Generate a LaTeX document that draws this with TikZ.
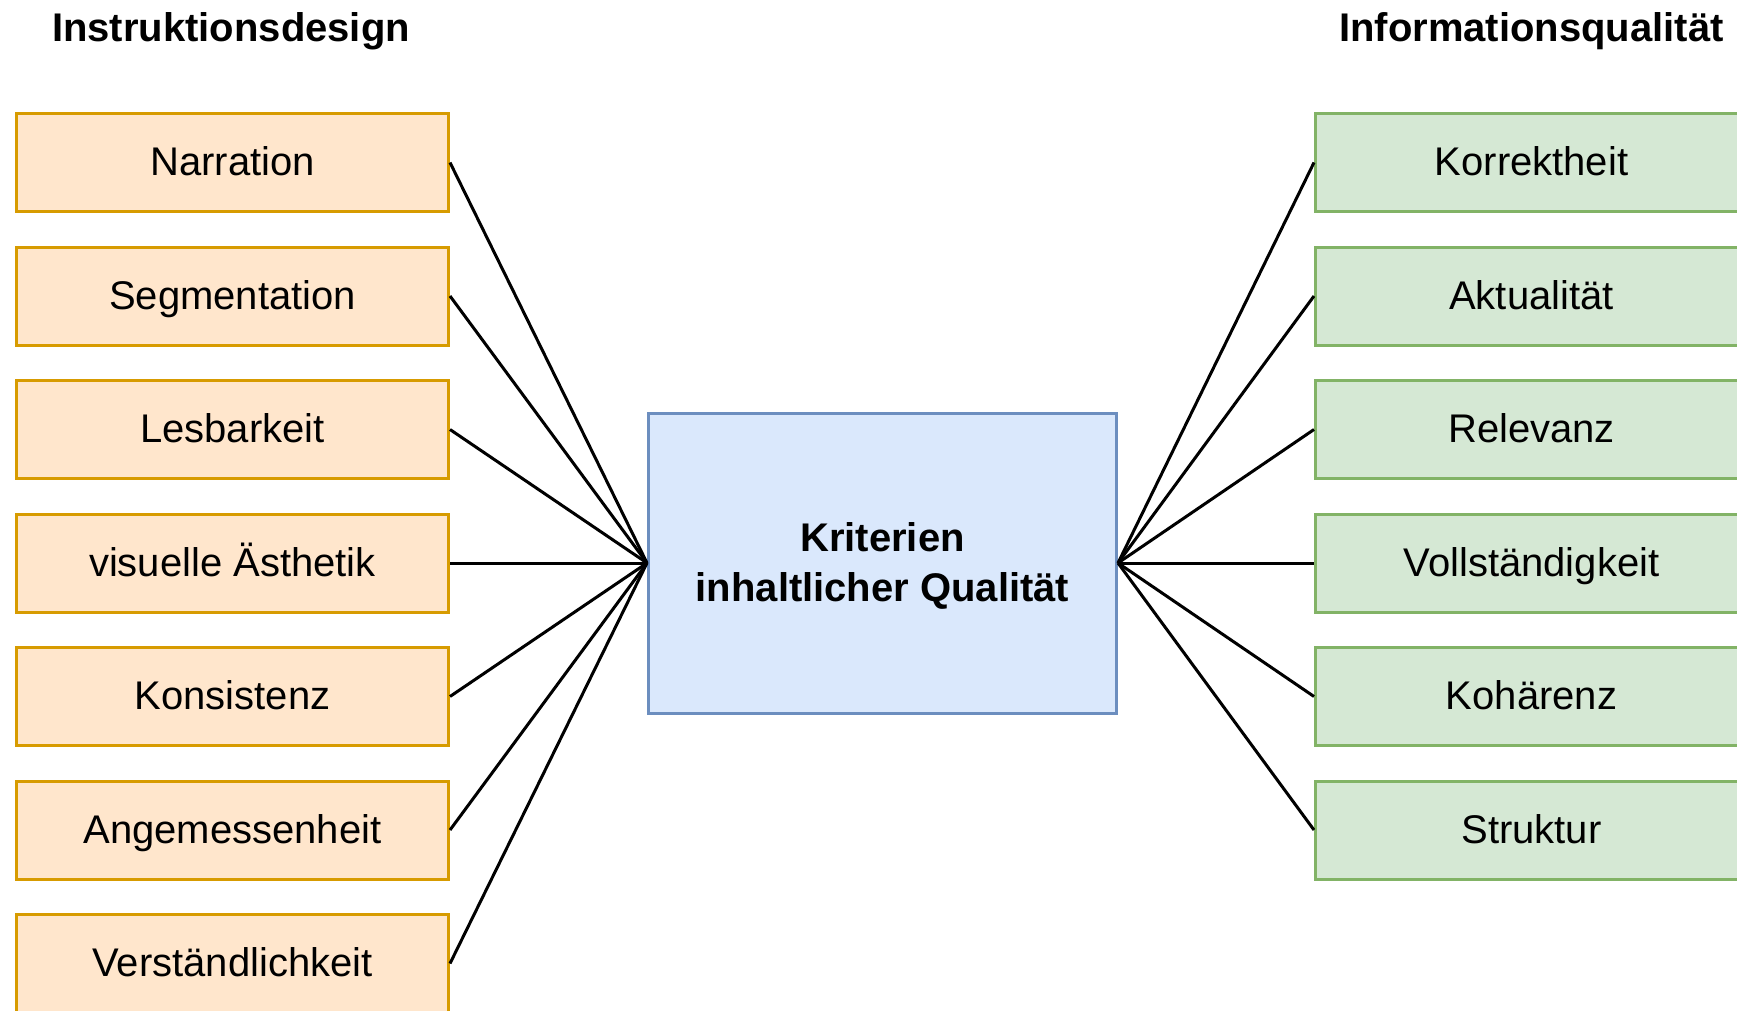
\documentclass[tikz,border=0pt]{standalone}
\usepackage{fontspec}
\setmainfont{Liberation Sans}
\definecolor{oFill}{HTML}{FFE6CC}
\definecolor{oLine}{HTML}{D79B00}
\definecolor{gFill}{HTML}{D5E8D4}
\definecolor{gLine}{HTML}{82B366}
\definecolor{bFill}{HTML}{DAE8FC}
\definecolor{bLine}{HTML}{6C8EBF}
\begin{document}
\begin{tikzpicture}[x=1pt,y=-1pt,
  box/.style={draw, line width=3pt, minimum width=432pt, minimum height=98pt, inner sep=0pt,
    font=\fontsize{40}{48}\selectfont, text height=26pt, text depth=0pt},
  obox/.style={box, fill=oFill, draw=oLine},
  gbox/.style={box, fill=gFill, draw=gLine},
  cbox/.style={draw=bLine, fill=bFill, line width=3pt, minimum width=468pt, minimum height=300pt,
    inner sep=0pt, align=center, font=\bfseries\fontsize{40}{50}\selectfont},
  title/.style={anchor=base, font=\bfseries\fontsize{40}{48}\selectfont},
  link/.style={line width=3pt, black}]
\useasboundingbox (0,0) rectangle (1737,1011);
\clip (0,0) rectangle (1737,1011);

\node[title] (t1) at (231,42) {Instruktionsdesign};
\node[title] (t2) at (1531.5,42) {Informationsqualität};

\node[cbox] (ctr) at (882.5,563) {\rule{0pt}{35pt}Kriterien\\inhaltlicher Qualität};

\node[obox] (l1) at (232.5,162.5) {Narration};
\node[obox] (l2) at (232.5,296) {Segmentation};
\node[obox] (l3) at (232.5,429.5) {Lesbarkeit};
\node[obox] (l4) at (232.5,563) {visuelle Ästhetik};
\node[obox] (l5) at (232.5,696.5) {Konsistenz};
\node[obox] (l6) at (232.5,830) {Angemessenheit};
\node[obox] (l7) at (232.5,963.5) {Verständlichkeit};

\node[gbox] (r1) at (1531.5,162.5) {Korrektheit};
\node[gbox] (r2) at (1531.5,296) {Aktualität};
\node[gbox] (r3) at (1531.5,429.5) {Relevanz};
\node[gbox] (r4) at (1531.5,563) {Vollständigkeit};
\node[gbox] (r5) at (1531.5,696.5) {Kohärenz};
\node[gbox] (r6) at (1531.5,830) {Struktur};

\foreach \n in {l1,l2,l3,l4,l5,l6,l7}
  \draw[link] (\n.east) -- (ctr.west);
\foreach \n in {r1,r2,r3,r4,r5,r6}
  \draw[link] (ctr.east) -- (\n.west);
\end{tikzpicture}
\end{document}
